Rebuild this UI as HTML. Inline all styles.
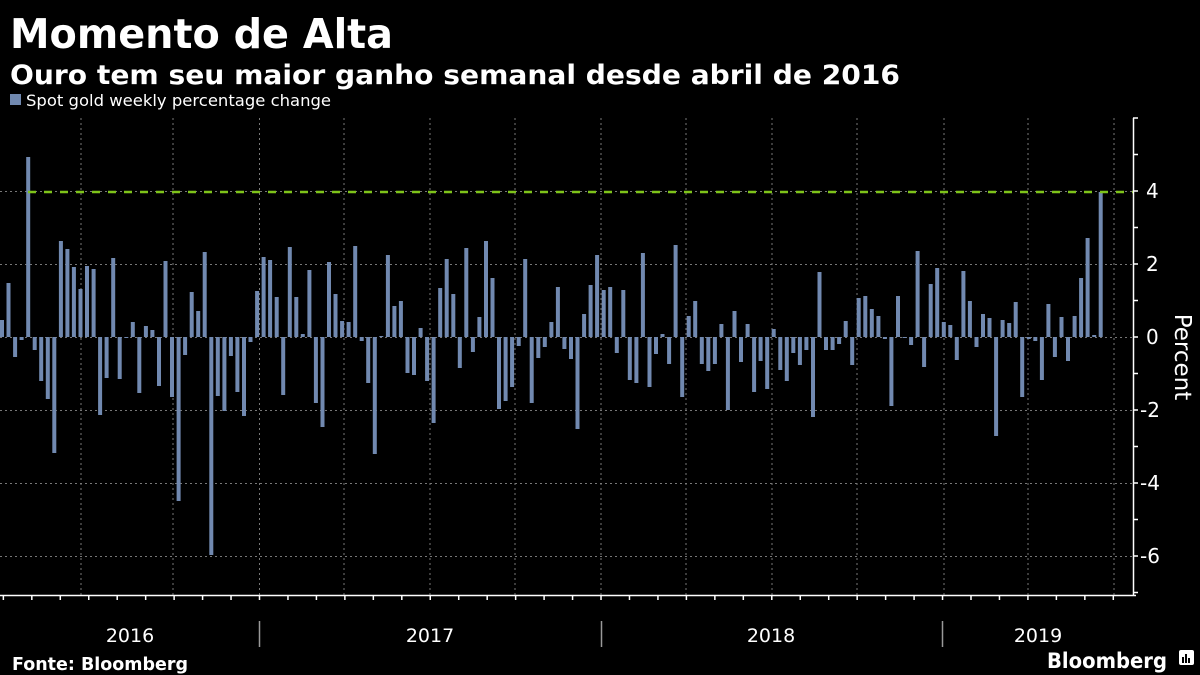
<!DOCTYPE html>
<html><head><meta charset="utf-8"><style>
html,body{margin:0;padding:0;background:#000;}
body{width:1200px;height:675px;overflow:hidden;font-family:"Liberation Sans","DejaVu Sans",sans-serif;}
</style></head><body>
<svg id="s" width="1200" height="675" xmlns="http://www.w3.org/2000/svg" style="position:absolute;left:0;top:0">
<text x="10" y="48" fill="#fff" font-size="41" font-weight="bold" font-family="DejaVu Sans,sans-serif" textLength="383" lengthAdjust="spacingAndGlyphs">Momento de Alta</text>
<text x="10" y="84" fill="#fff" font-size="27" font-weight="bold" font-family="DejaVu Sans,sans-serif" textLength="890" lengthAdjust="spacingAndGlyphs">Ouro tem seu maior ganho semanal desde abril de 2016</text>
<rect x="10" y="94" width="11" height="11" fill="#7189b0"/>
<text x="26" y="106" fill="#fff" font-size="16" font-family="DejaVu Sans,sans-serif" textLength="305" lengthAdjust="spacingAndGlyphs">Spot gold weekly percentage change</text>
<g id="grid" stroke="#777" stroke-width="1" stroke-dasharray="2,3"></g>
<g id="bars" fill="#7189b0"></g>
<line x1="28" y1="192" x2="1133" y2="192" stroke="#7ec31a" stroke-width="2.5" stroke-dasharray="8,8"/>
<g stroke="#fff" stroke-width="1.5" id="ax">
<line x1="0" y1="595.5" x2="1136" y2="595.5"/>
<line x1="1133.5" y1="118" x2="1133.5" y2="596"/>
</g>
<g fill="#fff" font-size="20" font-family="DejaVu Sans,sans-serif">
<text x="1146" y="198">4</text>
<text x="1146" y="271">2</text>
<text x="1146" y="344">0</text>
<text x="1140" y="417">-2</text>
<text x="1140" y="490">-4</text>
<text x="1140" y="563">-6</text>
<text transform="translate(1175,357) rotate(90)" text-anchor="middle" font-size="23">Percent</text>
</g>
<g stroke="#999" stroke-width="1.5">
<line x1="259.5" y1="621" x2="259.5" y2="647"/>
<line x1="601.5" y1="621" x2="601.5" y2="647"/>
<line x1="942.5" y1="621" x2="942.5" y2="647"/>
</g>
<g fill="#fff" font-size="19" font-family="DejaVu Sans,sans-serif" text-anchor="middle">
<text x="130" y="642">2016</text>
<text x="430" y="642">2017</text>
<text x="771" y="642">2018</text>
<text x="1038" y="642">2019</text>
</g>
<text x="12" y="670" fill="#fff" font-size="18" font-weight="bold" font-family="DejaVu Sans,sans-serif" textLength="176" lengthAdjust="spacingAndGlyphs">Fonte: Bloomberg</text>
<text x="1047" y="668" fill="#fff" font-size="21" font-weight="bold" font-family="DejaVu Sans,sans-serif" textLength="120" lengthAdjust="spacingAndGlyphs">Bloomberg</text>
<rect x="1179" y="650" width="15" height="15" rx="2" fill="#fff"/>
<g fill="#000"><rect x="1182" y="657" width="2" height="6"/><rect x="1185" y="654" width="2" height="9"/><rect x="1188" y="658" width="2" height="5"/></g>
</svg>
<script>
var ys=[320,283,357,340,157,350,381,399,453,241,249,267,289,266,269,415,378,258,379,338,322,393,326,330,386,261,397,501,355,292,311,252,555,396,411,356,392,416,342,291,257,260,297,395,247,297,334,270,403,427,262,294,321,322,246,341,383,454,336,255,306,301,373,375,328,381,423,288,259,294,368,248,352,317,241,278,409,401,387,346,259,403,358,347,322,287,349,359,429,314,285,255,290,287,353,290,380,383,253,387,354,334,364,245,397,316,301,364,371,364,324,410,311,362,324,392,361,389,329,370,381,353,365,350,417,272,350,350,344,321,365,298,296,309,316,339,406,296,338,345,251,367,284,268,322,325,360,271,301,347,314,318,436,320,323,302,397,339,341,380,304,357,317,361,316,278,238,335,192];
var ns="http://www.w3.org/2000/svg",b=document.getElementById("bars"),g=document.getElementById("grid"),ax=document.getElementById("ax");
function el(p,t,a){var e=document.createElementNS(ns,t);for(var k in a)e.setAttribute(k,a[k]);p.appendChild(e);}
ys.forEach(function(y,i){var x=i*6.54,t=Math.min(y,337),h=Math.max(Math.abs(y-337),1);el(b,"rect",{x:x.toFixed(1),y:t,width:4,height:h});});
[81,173,259.5,344,430,515,601,686,772,857,944,1028,1114].forEach(function(x){el(g,"line",{x1:x,y1:118,x2:x,y2:595});});
[191,264,337,410,483,556].forEach(function(y){el(g,"line",{x1:0,y1:y+.5,x2:1133,y2:y+.5});});
for(var m=-9;m<40;m++){var x=259.5+m*28.46;if(x>0&&x<1133)el(ax,"line",{x1:x,y1:595,x2:x,y2:600});}
for(var v=-7;v<=6;v++){var y=337-v*36.5;if(y>=118&&y<=595)el(ax,"line",{x1:1133,y1:y,x2:1138,y2:y});}
</script>
</body></html>
